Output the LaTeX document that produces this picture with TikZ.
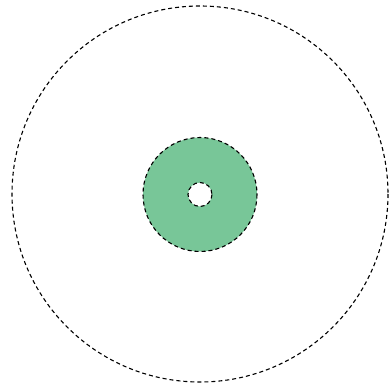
\documentclass[tikz,border=0pt]{standalone}
\usepackage{tikz}
\definecolor{ringGreen}{RGB}{120,198,152}

\begin{document}
\begin{tikzpicture}[
    x=1pt,y=-1pt,
    rim/.style={draw=black,line width=1.1pt,dash pattern=on 4pt off 3pt}
]
\useasboundingbox (0,0) rectangle (392,391);
\coordinate (centre) at (200,194.5);

\fill[ringGreen,even odd rule] (centre) circle[radius=57] (centre) circle[radius=12];
\draw[rim] (centre) circle[radius=57];
\draw[rim] (centre) circle[radius=12];
\draw[rim] (200,194) circle[radius=188];
\end{tikzpicture}
\end{document}
